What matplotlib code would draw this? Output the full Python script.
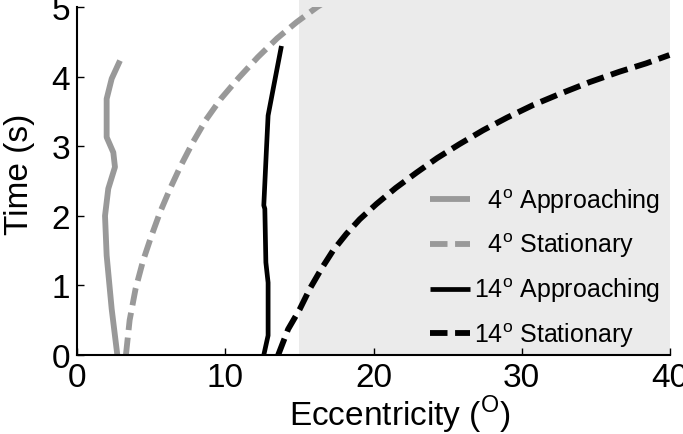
import matplotlib
matplotlib.use("Agg")
import matplotlib.pyplot as plt

plt.rcParams['font.family'] = ['Liberation Sans', 'DejaVu Sans']
plt.rcParams['mathtext.fontset'] = 'custom'
plt.rcParams['mathtext.rm'] = 'Liberation Sans'

# 4 deg approaching (gray solid)
a4_x = [2.72, 2.34, 2.00, 1.89, 2.11, 2.56, 2.45, 2.00, 2.00, 2.34, 2.90]
a4_t = [0.00, 0.66, 1.43, 2.00, 2.39, 2.70, 2.91, 3.13, 3.68, 3.97, 4.23]
# 4 deg stationary (gray dashed)
s4_x = [3.30, 3.55, 3.95, 4.45, 5.00, 5.60, 6.30, 7.00, 7.80, 8.70, 9.70, 10.90,
        12.20, 13.50, 14.80, 16.20, 16.50]
s4_t = [0.00, 0.50, 0.95, 1.35, 1.70, 2.05, 2.40, 2.72, 3.05, 3.38, 3.68, 3.98,
        4.28, 4.55, 4.78, 5.00, 5.04]
# 14 deg approaching (black solid)
a14_x = [12.60, 12.89, 12.89, 12.74, 12.67, 12.60, 12.78, 12.89, 13.23, 13.79]
a14_t = [0.00, 0.28, 1.04, 1.33, 2.10, 2.15, 2.96, 3.44, 3.82, 4.44]
# 14 deg stationary (black dashed)
s14_x = [13.57, 14.24, 15.03, 15.70, 16.49, 17.27, 18.17, 19.07, 20.20, 21.50,
         22.90, 24.30, 25.80, 27.40, 29.00, 30.75, 32.55, 34.57, 36.59, 38.39, 39.96]
s14_t = [0.00, 0.37, 0.66, 0.95, 1.24, 1.50, 1.74, 1.95, 2.17, 2.40,
         2.62, 2.83, 3.03, 3.23, 3.41, 3.59, 3.75, 3.92, 4.07, 4.19, 4.31]

labels = ["  4$^\\mathrm{o}$ Approaching", "  4$^\\mathrm{o}$ Stationary",
          "14$^\\mathrm{o}$ Approaching", "14$^\\mathrm{o}$ Stationary"]
xticks = [0, 10, 20, 30, 40]
yticks = [0, 1, 2, 3, 4, 5]

fig = plt.figure(figsize=(6.83, 4.35), dpi=100)
ax = fig.add_axes([77/683, 1-356/435, (670-77)/683, (356-8)/435])

ax.axvspan(15, 40, ymin=0, ymax=1.03, color='#ebebeb', lw=0, clip_on=False, zorder=0)

gray = '#999999'
l1, = ax.plot(a4_x, a4_t, color=gray, lw=4.2, solid_capstyle='butt', clip_on=False)
l2, = ax.plot(s4_x, s4_t, color=gray, lw=4.2, dashes=(3.0, 1.3), clip_on=True)
l3, = ax.plot(a14_x, a14_t, color='black', lw=3.4, solid_capstyle='butt', clip_on=False)
l4, = ax.plot(s14_x, s14_t, color='black', lw=4.2, dashes=(3.0, 1.3), clip_on=False)

ax.set_xlim(0, 40)
ax.set_ylim(0, 5)
ax.set_xticks(xticks)
ax.set_yticks(yticks)
ax.tick_params(direction='in', length=5, width=1, labelsize=24, pad=5)
for s in ['top', 'right']:
    ax.spines[s].set_visible(False)
for s in ['left', 'bottom']:
    ax.spines[s].set_linewidth(1.5)
ax.set_facecolor('none')
ax.set_xlabel("Eccentricity ($^\\mathrm{O}$)", fontsize=24)
ax.set_ylabel("Time (s)", fontsize=24)
ax.xaxis.set_label_coords(0.545, -0.108)
ax.yaxis.set_label_coords(-0.07, 0.523)

leg = ax.legend([l1, l2, l3, l4], labels, loc='upper left',
                bbox_to_anchor=(430/683, 1-187/435), bbox_transform=fig.transFigure,
                frameon=False, fontsize=18, handlelength=1.6, handletextpad=0.15,
                labelspacing=0.65, borderpad=0, borderaxespad=0)

fig.savefig("out.png", dpi=100)
